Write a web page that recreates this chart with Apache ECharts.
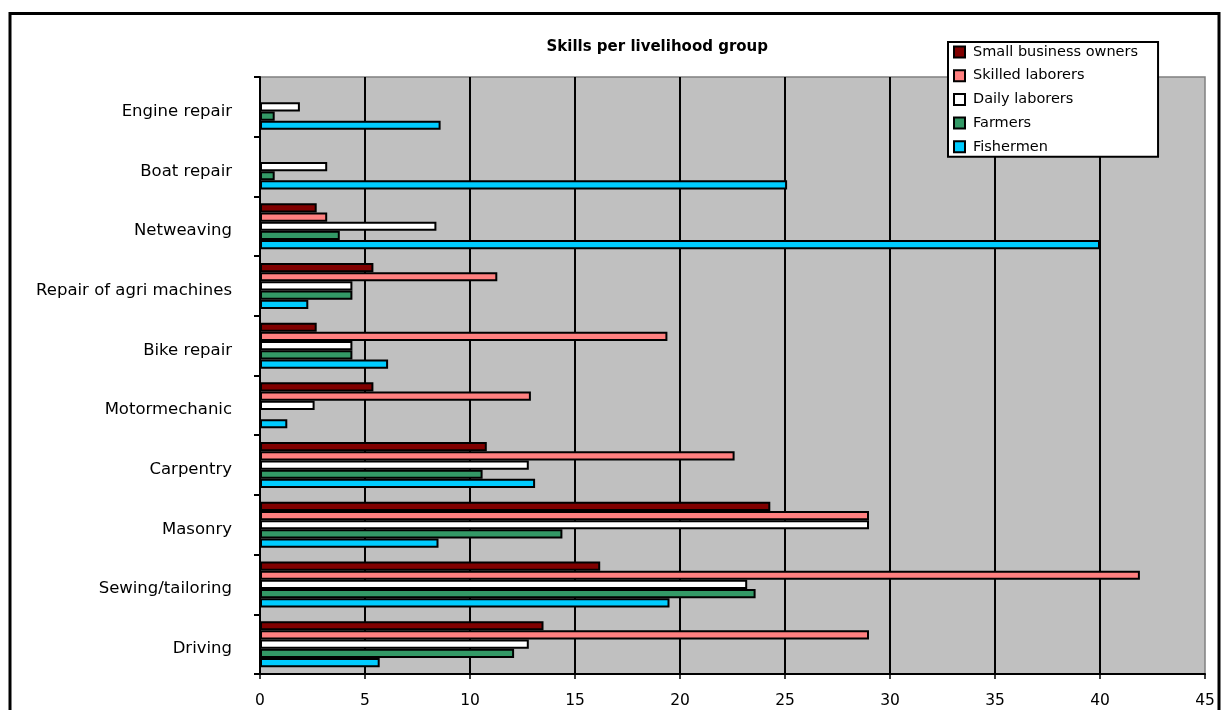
<!DOCTYPE html>
<html>
<head>
<meta charset="utf-8">
<script src="https://cdn.jsdelivr.net/npm/echarts@6/dist/echarts.min.js"></script>
<style>
  html, body { margin: 0; padding: 0; background: #fff; }
  #chart { width: 1224px; height: 710px; }
</style>
</head>
<body>
<div id="chart"></div>
<script>
// Skill areas, listed top to bottom
const categories = ['Engine repair', 'Boat repair', 'Netweaving', 'Repair of agri machines', 'Bike repair',
  'Motormechanic', 'Carpentry', 'Masonry', 'Sewing/tailoring', 'Driving'];

const seriesNames = ['Small business owners', 'Skilled laborers', 'Daily laborers', 'Farmers', 'Fishermen'];

// Share of each livelihood group (%) with the skill, same order as categories
const smallBusinessOwners = [0, 0, 2.7, 5.4, 2.7, 5.4, 10.8, 24.3, 16.2, 13.5];
const skilledLaborers     = [0, 0, 3.2, 11.3, 19.4, 12.9, 22.6, 29.0, 41.9, 29.0];
const dailyLaborers       = [1.9, 3.2, 8.4, 4.4, 4.4, 2.6, 12.8, 29.0, 23.2, 12.8];
const farmers             = [0.7, 0.7, 3.8, 4.4, 4.4, 0, 10.6, 14.4, 23.6, 12.1];
const fishermen           = [8.6, 25.1, 40.0, 2.3, 6.1, 1.3, 13.1, 8.5, 19.5, 5.7];

const xTicks = { min: 0, max: 45, interval: 5 };

const seriesValues = [smallBusinessOwners, skilledLaborers, dailyLaborers, farmers, fishermen];
const seriesColors = ['#800000', '#FF8080', '#FFFFFF', '#339966', '#00CCFF'];

const FONT = 'DejaVu Sans';

const chart = echarts.init(document.getElementById('chart'), null, { renderer: 'canvas' });

chart.setOption({
  animation: false,
  backgroundColor: '#ffffff',
  title: {
    text: 'Skills per livelihood group',
    right: 456,
    top: 40,
    padding: 0,
    textStyle: { fontFamily: FONT, fontSize: 15, fontWeight: 'bold', color: '#000' }
  },
  legend: {
    data: seriesNames,
    orient: 'vertical',
    left: 948,
    top: 42,
    padding: [2, 20, 2, 5],
    itemGap: 7.7,
    itemWidth: 11,
    itemHeight: 11,
    icon: 'rect',
    backgroundColor: '#ffffff',
    borderColor: '#000',
    borderWidth: 2,
    itemStyle: { borderColor: '#000', borderWidth: 2 },
    textStyle: { fontFamily: FONT, fontSize: 14.5, color: '#000', lineHeight: 16, padding: [0, 0, 0, 3] }
  },
  grid: {
    left: 260,
    right: 19,
    top: 77,
    bottom: 36,
    show: true,
    backgroundColor: '#C0C0C0',
    borderColor: '#808080',
    borderWidth: 1.5,
    containLabel: false,
    outerBoundsMode: 'none'
  },
  xAxis: {
    type: 'value',
    min: xTicks.min,
    max: xTicks.max,
    interval: xTicks.interval,
    axisLine: { show: true, lineStyle: { color: '#000', width: 2 } },
    axisTick: { show: true, length: 5, lineStyle: { color: '#000', width: 1.5 } },
    axisLabel: { color: '#000', fontFamily: FONT, fontSize: 15.5, margin: 19 },
    splitLine: { show: true, showMinLine: false, showMaxLine: false, lineStyle: { color: '#000', width: 2 } }
  },
  yAxis: {
    type: 'category',
    data: categories,
    inverse: true,
    axisLine: { show: true, lineStyle: { color: '#000', width: 2 } },
    axisTick: { show: true, length: 6, inside: false, lineStyle: { color: '#000', width: 2 } },
    axisLabel: {
      color: '#000', fontFamily: FONT, fontSize: 16.5, margin: 28,
      verticalAlign: 'top', lineHeight: 9.5
    },
    splitLine: { show: false }
  },
  series: seriesNames.map((name, i) => ({
    name,
    type: 'bar',
    data: seriesValues[i],
    barGap: '0%',
    barCategoryGap: '23%',
    itemStyle: { color: seriesColors[i], borderColor: '#000', borderWidth: 2 }
  })),
  graphic: [
    {
      type: 'rect',
      shape: { x: 10, y: 13.5, width: 1209, height: 720 },
      style: { fill: 'none', stroke: '#000', lineWidth: 3 },
      silent: true,
      z: 100
    }
  ]
});
</script>
</body>
</html>
